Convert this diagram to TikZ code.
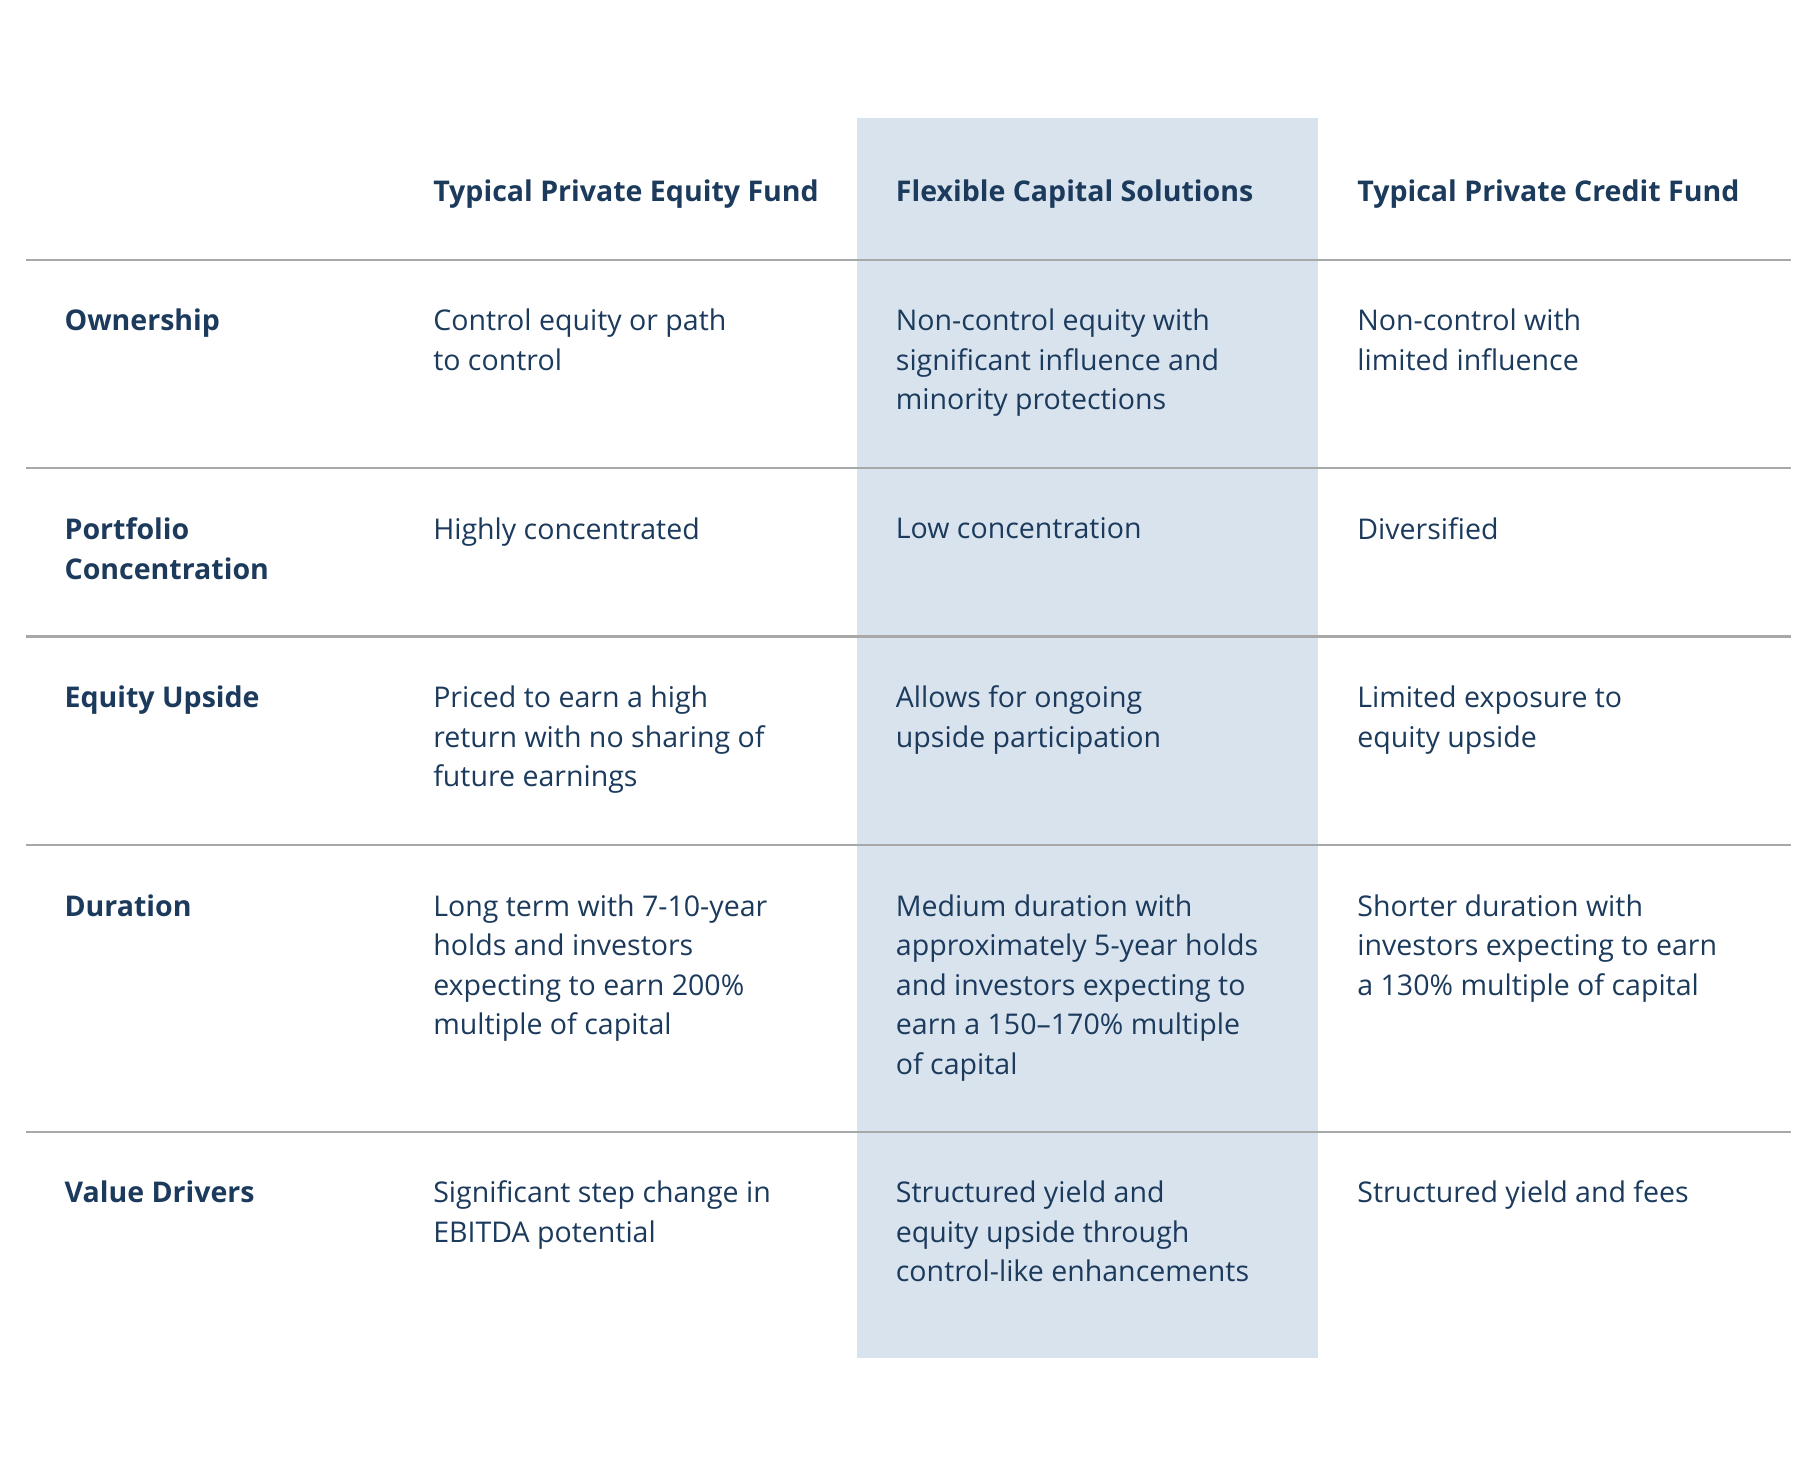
\documentclass[tikz,border=0pt]{standalone}
\usepackage{fontspec}
\setmainfont{Open Sans}
\usepackage{xcolor}
\definecolor{navy}{HTML}{1B3A5C}
\definecolor{paleblue}{HTML}{D8E3EE}
\definecolor{rulegray}{HTML}{A8A8A8}

\begin{document}
\begin{tikzpicture}[x=0.01cm, y=-0.01cm,
	cell/.style = {anchor=north west, align=left, inner sep=0pt, text=navy, font=\fontsize{7}{9.67}\selectfont},
	head/.style = {cell, font=\fontsize{7}{9.67}\selectfont\bfseries},
	rowline/.style = {rulegray, line width=0.5pt}]
	\useasboundingbox (0,0) rectangle (1568,1274);
	
	\fill[paleblue] (739,102) rectangle (1137,1171);
	
	\foreach \y in {224, 404, 549, 729, 976}
		\draw[rowline] (22,\y) -- (1545,\y);
	
	\node[head] (h1) at (373,154) {Typical Private Equity Fund};
	\node[head] (h2) at (772,154) {Flexible Capital Solutions};
	\node[head] (h3) at (1170,154) {Typical Private Credit Fund};
	
	\node[head] (own) at (55,266) {Ownership};
	\node[cell] (own1) at (373,266) {Control equity or path\\to control};
	\node[cell] (own2) at (772,266) {Non-control equity with\\significant influence and\\minority protections};
	\node[cell] (own3) at (1170,266) {Non-control with\\limited influence};
	
	\node[head] (conc) at (55,446) {Portfolio\\Concentration};
	\node[cell] (conc1) at (373,446) {Highly concentrated};
	\node[cell] (conc2) at (772,446) {Low concentration};
	\node[cell] (conc3) at (1170,446) {Diversified};
	
	\node[head] (up) at (55,591) {Equity Upside};
	\node[cell] (up1) at (373,591) {Priced to earn a high\\return with no sharing of\\future earnings};
	\node[cell] (up2) at (772,591) {Allows for ongoing\\upside participation};
	\node[cell] (up3) at (1170,591) {Limited exposure to\\equity upside};
	
	\node[head] (dur) at (55,771) {Duration};
	\node[cell] (dur1) at (373,771) {Long term with 7-10-year\\holds and investors\\expecting to earn 200\%\\multiple of capital};
	\node[cell] (dur2) at (772,771) {Medium duration with\\approximately 5-year holds\\and investors expecting to\\earn a 150–170\% multiple\\of capital};
	\node[cell] (dur3) at (1170,771) {Shorter duration with\\investors expecting to earn\\a 130\% multiple of capital};
	
	\node[head] (val) at (55,1018) {Value Drivers};
	\node[cell] (val1) at (373,1018) {Significant step change in\\EBITDA potential};
	\node[cell] (val2) at (772,1018) {Structured yield and\\equity upside through\\control-like enhancements};
	\node[cell] (val3) at (1170,1018) {Structured yield and fees};
\end{tikzpicture}
\end{document}
